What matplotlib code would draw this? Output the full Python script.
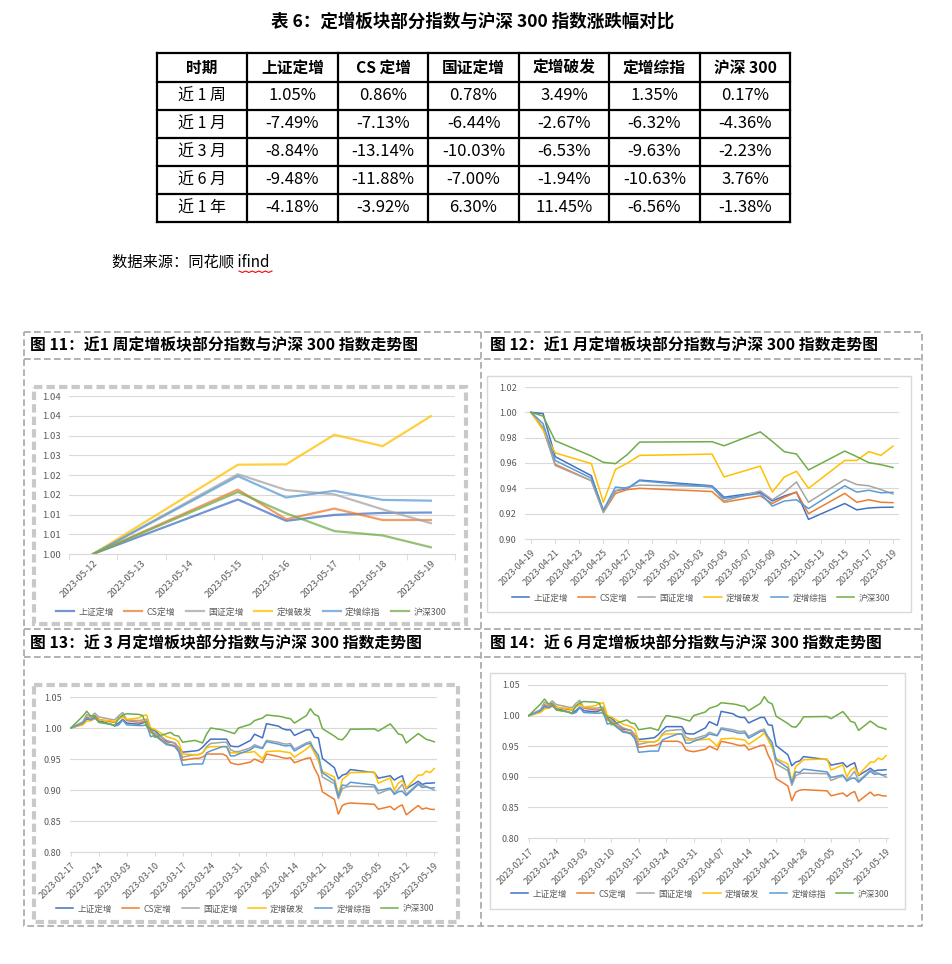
import math
import numpy as np
import pandas as pd
import matplotlib
matplotlib.use("Agg")
import matplotlib.pyplot as plt
from matplotlib.patches import Rectangle

plt.rcParams['font.family'] = ['Noto Sans CJK SC', 'DejaVu Sans']

# ---------------- data ----------------
names = ["上证定增", "CS定增", "国证定增", "定增破发", "定增综指", "沪深300"]
colors = ["#4472C4", "#ED7D31", "#A5A5A5", "#FFC000", "#5B9BD5", "#70AD47"]

table_cols = ["时期", "上证定增", "CS 定增", "国证定增", "定增破发", "定增综指", "沪深 300"]
table_rows = ["近 1 周", "近 1 月", "近 3 月", "近 6 月", "近 1 年"]
chg_week = [1.05, 0.86, 0.78, 3.49, 1.35, 0.17]
chg_1m = [-7.49, -7.13, -6.44, -2.67, -6.32, -4.36]
chg_3m = [-8.84, -13.14, -10.03, -6.53, -9.63, -2.23]
chg_6m = [-9.48, -11.88, -7.00, -1.94, -10.63, 3.76]
chg_1y = [-4.18, -3.92, 6.30, 11.45, -6.56, -1.38]

# week chart (category axis)
week_cats = ["2023-05-12", "2023-05-13", "2023-05-14", "2023-05-15",
             "2023-05-16", "2023-05-17", "2023-05-18", "2023-05-19"]
week_dates = ["2023-05-12", "2023-05-15", "2023-05-16", "2023-05-17", "2023-05-18", "2023-05-19"]
w_sz = [1.000, 1.0138, 1.0084, 1.0099, 1.0104, 1.0105]
w_cs = [1.000, 1.0163, 1.0088, 1.0115, 1.0086, 1.0086]
w_gz = [1.000, 1.0202, 1.0162, 1.0151, 1.0113, 1.0078]
w_pf = [1.000, 1.0226, 1.0227, 1.0302, 1.0273, 1.0349]
w_zz = [1.000, 1.0197, 1.0143, 1.0160, 1.0137, 1.0135]
w_hs = [1.000, 1.0157, 1.0103, 1.0058, 1.0047, 1.0017]

# month chart
m_dates = ["2023-04-19", "2023-04-20", "2023-04-21", "2023-04-24", "2023-04-25", "2023-04-26",
           "2023-04-27", "2023-04-28", "2023-05-04", "2023-05-05", "2023-05-08", "2023-05-09",
           "2023-05-10", "2023-05-11", "2023-05-12", "2023-05-15", "2023-05-16", "2023-05-17",
           "2023-05-18", "2023-05-19"]
m_sz = [1.000, 0.999, 0.965, 0.950, 0.922, 0.938, 0.940, 0.9465, 0.942, 0.933, 0.937, 0.930,
        0.934, 0.937, 0.9155, 0.928, 0.923, 0.9245, 0.925, 0.9251]
m_cs = [1.000, 0.987, 0.959, 0.946, 0.921, 0.936, 0.939, 0.940, 0.9375, 0.929, 0.934, 0.928,
        0.933, 0.937, 0.920, 0.936, 0.929, 0.931, 0.929, 0.9287]
m_gz = [1.000, 0.988, 0.958, 0.946, 0.921, 0.938, 0.941, 0.9425, 0.9415, 0.930, 0.938, 0.931,
        0.937, 0.945, 0.929, 0.947, 0.943, 0.942, 0.939, 0.9356]
m_pf = [1.000, 0.986, 0.968, 0.9595, 0.929, 0.955, 0.960, 0.966, 0.967, 0.949, 0.9575, 0.937,
        0.949, 0.9535, 0.940, 0.962, 0.962, 0.969, 0.966, 0.9733]
m_zz = [1.000, 0.991, 0.962, 0.948, 0.923, 0.941, 0.940, 0.946, 0.941, 0.932, 0.936, 0.926,
        0.930, 0.931, 0.924, 0.942, 0.937, 0.9385, 0.9365, 0.9368]
m_hs = [1.000, 0.997, 0.9776, 0.9655, 0.9605, 0.9595, 0.9668, 0.9765, 0.9768, 0.9736, 0.9846, 0.977,
        0.9689, 0.9671, 0.9545, 0.9694, 0.965, 0.9603, 0.9587, 0.9564]

# three-month chart (the six-month panel in the source shows the same series)
q_dates = ["2023-02-17", "2023-02-20", "2023-02-21", "2023-02-22", "2023-02-23", "2023-02-24",
           "2023-02-27", "2023-02-28", "2023-03-01", "2023-03-02", "2023-03-03", "2023-03-06",
           "2023-03-07", "2023-03-08", "2023-03-09", "2023-03-10", "2023-03-13", "2023-03-14",
           "2023-03-15", "2023-03-16", "2023-03-17", "2023-03-20", "2023-03-21", "2023-03-22",
           "2023-03-23", "2023-03-24", "2023-03-27", "2023-03-28", "2023-03-29", "2023-03-30",
           "2023-03-31", "2023-04-03", "2023-04-04", "2023-04-06", "2023-04-07", "2023-04-10",
           "2023-04-11", "2023-04-12", "2023-04-13", "2023-04-14", "2023-04-17", "2023-04-18",
           "2023-04-19", "2023-04-20", "2023-04-21", "2023-04-24", "2023-04-25", "2023-04-26",
           "2023-04-27", "2023-04-28", "2023-05-04", "2023-05-05", "2023-05-08", "2023-05-09",
           "2023-05-10", "2023-05-11", "2023-05-12", "2023-05-15", "2023-05-16", "2023-05-17",
           "2023-05-18", "2023-05-19"]
q_sz = [1.000, 1.006, 1.015, 1.012, 1.017, 1.012, 1.006, 1.004, 1.008, 1.014, 1.008, 1.006,
        1.008, 1.011, 0.998, 0.996, 0.978, 0.977, 0.976, 0.968, 0.961, 0.963, 0.964, 0.969,
        0.976, 0.982, 0.982, 0.982, 0.971, 0.970, 0.970, 0.980, 0.990, 0.984, 1.007, 1.003,
        0.999, 0.997, 0.997, 0.988, 0.997, 0.997,
        0.985, 0.984, 0.951, 0.936, 0.918, 0.924, 0.926, 0.933, 0.928, 0.919, 0.923, 0.916,
        0.920, 0.923, 0.902, 0.914, 0.909, 0.911, 0.911, 0.9116]
q_cs = [1.000, 1.008, 1.018, 1.015, 1.020, 1.014, 1.010, 1.009, 1.015, 1.020, 1.012, 1.009,
        1.010, 1.009, 0.993, 0.990, 0.975, 0.973, 0.972, 0.965, 0.948, 0.951, 0.951, 0.953,
        0.958, 0.958, 0.958, 0.955, 0.944, 0.942, 0.941, 0.945, 0.950, 0.944, 0.958, 0.954,
        0.952, 0.951, 0.952, 0.944, 0.951, 0.952,
        0.935, 0.923, 0.897, 0.885, 0.861, 0.875, 0.878, 0.879, 0.877, 0.869, 0.8735, 0.868,
        0.873, 0.876, 0.860, 0.875, 0.869, 0.871, 0.869, 0.8686]
q_gz = [1.000, 1.010, 1.022, 1.018, 1.024, 1.018, 1.014, 1.013, 1.020, 1.025, 1.013, 1.012,
        1.013, 1.014, 0.996, 0.992, 0.980, 0.978, 0.976, 0.968, 0.953, 0.957, 0.957, 0.960,
        0.970, 0.975, 0.977, 0.977, 0.965, 0.962, 0.962, 0.968, 0.973, 0.968, 0.980, 0.977,
        0.975, 0.974, 0.975, 0.966, 0.976, 0.978,
        0.962, 0.950, 0.921, 0.910, 0.886, 0.902, 0.905, 0.906, 0.905, 0.894, 0.902, 0.895,
        0.901, 0.909, 0.893, 0.911, 0.907, 0.906, 0.903, 0.8997]
q_pf = [1.000, 1.005, 1.011, 1.012, 1.015, 1.013, 1.012, 1.010, 1.014, 1.018, 1.014, 1.016,
        1.020, 1.021, 1.000, 0.998, 0.986, 0.984, 0.982, 0.978, 0.958, 0.957, 0.957, 0.960,
        0.968, 0.970, 0.970, 0.970, 0.960, 0.960, 0.960, 0.961, 0.962, 0.950, 0.962, 0.963,
        0.962, 0.961, 0.960, 0.953, 0.966, 0.972,
        0.960, 0.947, 0.930, 0.921, 0.892, 0.917, 0.922, 0.928, 0.929, 0.911, 0.9195, 0.900,
        0.911, 0.9155, 0.903, 0.924, 0.924, 0.9305, 0.928, 0.9347]
q_zz = [1.000, 1.008, 1.016, 1.013, 1.016, 1.010, 1.006, 1.003, 1.005, 1.013, 1.005, 1.004,
        1.004, 1.005, 0.986, 0.988, 0.973, 0.972, 0.970, 0.962, 0.940, 0.942, 0.942, 0.942,
        0.960, 0.963, 0.970, 0.970, 0.955, 0.955, 0.958, 0.965, 0.970, 0.967, 0.978, 0.974,
        0.972, 0.971, 0.972, 0.963, 0.974, 0.975,
        0.965, 0.956, 0.928, 0.9145, 0.890, 0.908, 0.907, 0.9125, 0.908, 0.899, 0.903, 0.893,
        0.897, 0.898, 0.891, 0.909, 0.904, 0.905, 0.903, 0.9037]
q_hs = [1.000, 1.019, 1.027, 1.019, 1.020, 1.009, 1.006, 1.004, 1.016, 1.021, 1.023, 1.022,
        1.020, 1.002, 0.999, 0.985, 0.991, 0.993, 0.988, 0.987, 0.977, 0.980, 0.978, 0.976,
        0.990, 1.000, 0.997, 0.995, 0.993, 0.991, 1.000, 1.006, 1.012, 1.016, 1.021, 1.019,
        1.018, 1.016, 1.015, 1.008, 1.020, 1.031,
        1.022, 1.019, 0.999, 0.987, 0.982, 0.981, 0.988, 0.998, 0.9985, 0.995, 1.0066, 0.999,
        0.9905, 0.9887, 0.9758, 0.991, 0.9865, 0.9817, 0.980, 0.9777]

# ---------------- layout helpers ----------------
W, H = 952, 964
fig = plt.figure(figsize=(W / 100, H / 100), dpi=100)
bg = fig.add_axes([0, 0, 1, 1])
bg.set_xlim(0, W)
bg.set_ylim(H, 0)
bg.axis("off")


def box(x0, y0, x1, y1):
    return [x0 / W, 1 - y1 / H, (x1 - x0) / W, (y1 - y0) / H]


def excel_round(v):
    return "%.2f" % (math.floor(v * 100 + 0.5 + 1e-9) / 100)


TXT = "#595959"

# ---------------- table ----------------
bg.text(473, 22, "表 6：定增板块部分指数与沪深 300 指数涨跌幅对比", ha="center", va="center",
        fontsize=12.6, fontweight="bold")
col_x = [157, 247, 338, 428, 519, 609, 700, 790]
row_y = [53, 82, 110, 138, 166, 194, 222]
for x in col_x:
    bg.plot([x, x], [row_y[0], row_y[-1]], color="black", lw=1.6)
for y in row_y:
    bg.plot([col_x[0], col_x[-1]], [y, y], color="black", lw=1.6)
for j, c in enumerate(table_cols):
    bg.text((col_x[j] + col_x[j + 1]) / 2, (row_y[0] + row_y[1]) / 2, c, ha="center",
            va="center", fontsize=11.3, fontweight="bold")
all_chg = [chg_week, chg_1m, chg_3m, chg_6m, chg_1y]
for i, r in enumerate(table_rows):
    yc = (row_y[i + 1] + row_y[i + 2]) / 2
    bg.text((col_x[0] + col_x[1]) / 2, yc, r, ha="center", va="center", fontsize=11.5)
    for j, v in enumerate(all_chg[i]):
        bg.text((col_x[j + 1] + col_x[j + 2]) / 2, yc, "%.2f%%" % v, ha="center",
                va="center", fontsize=12)

bg.text(112, 262, "数据来源：同花顺 ifind", ha="left", va="center", fontsize=11)
zx = np.linspace(239, 272, 11)
bg.plot(zx, 271 + 1.5 * (np.arange(11) % 2), color="red", lw=0.8)

# ---------------- dashed frame grid ----------------
dash = dict(color="#a6a6a6", lw=1.2, ls=(0, (4, 2)))
bg.plot([24, 922, 922, 24, 24], [332, 332, 926, 926, 332], **dash)
for y in [359, 629, 657]:
    bg.plot([24, 922], [y, y], **dash)
bg.plot([481, 481], [332, 926], **dash)

titles = [(30, 345, "图 11：近1 周定增板块部分指数与沪深 300 指数走势图"),
          (490, 345, "图 12：近1 月定增板块部分指数与沪深 300 指数走势图"),
          (30, 643, "图 13：近 3 月定增板块部分指数与沪深 300 指数走势图"),
          (490, 643, "图 14：近 6 月定增板块部分指数与沪深 300 指数走势图")]
for x, y, t in titles:
    bg.text(x, y, t, ha="left", va="center", fontsize=11.4, fontweight="bold")

# chart frames
bg.add_patch(Rectangle((34, 387), 432, 237, fill=False, ec="#c9c9c9", lw=3, ls=(0, (2, 1))))
bg.add_patch(Rectangle((34, 685), 424, 237, fill=False, ec="#c9c9c9", lw=3, ls=(0, (2, 1))))
bg.add_patch(Rectangle((487, 376), 424, 236, fill=False, ec="#d9d9d9", lw=1))
bg.add_patch(Rectangle((490, 673), 415, 236, fill=False, ec="#d9d9d9", lw=1))


def style_axis(ax, ylim, step, fs):
    ax.set_ylim(*ylim)
    yt = np.arange(ylim[0], ylim[1] + step / 2, step)
    ax.set_yticks(yt)
    ax.set_yticklabels([excel_round(v) for v in yt])
    ax.grid(axis="y", color="#d9d9d9", lw=0.8)
    ax.set_axisbelow(True)
    for s in ["top", "right", "left"]:
        ax.spines[s].set_visible(False)
    ax.spines["bottom"].set_color("#d9d9d9")
    ax.tick_params(axis="y", length=0, labelsize=fs, labelcolor=TXT, pad=6)
    ax.tick_params(axis="x", labelsize=fs, labelcolor=TXT, color="#d9d9d9", length=3)
    ax.patch.set_alpha(0)


def add_legend(ax, cx, cy, fs):
    ax.legend(loc="center", bbox_to_anchor=(cx / W, 1 - cy / H), bbox_transform=fig.transFigure,
              ncol=6, frameon=False, fontsize=fs, handlelength=2.0, columnspacing=1.2,
              handletextpad=0.5, labelcolor=TXT, borderpad=0.2)


# ---------------- chart 1: week ----------------
ax1 = fig.add_axes(box(69, 396, 455, 554))
xw = [week_cats.index(d) for d in week_dates]
for n, vals, c in zip(names, [w_sz, w_cs, w_gz, w_pf, w_zz, w_hs], colors):
    ax1.plot(xw, vals, color=c, lw=1.6, alpha=0.75, label=n)
ax1.set_xlim(-0.5, len(week_cats) - 0.5)
style_axis(ax1, (1.0, 1.04), 0.005, 6.8)
ax1.set_xticks(range(len(week_cats)))
ax1.set_xticklabels(week_cats, rotation=45, ha="right", rotation_mode="anchor")
ax1.set_xticks(np.arange(-0.5, len(week_cats)), minor=True)
ax1.tick_params(axis="x", which="major", length=0)
ax1.tick_params(axis="x", which="minor", length=4, color="#d9d9d9")
add_legend(ax1, 251, 612, 6.4)


# ---------------- date charts ----------------
def date_chart(rect, dates, series, ylim, step, tick_days, pad, legend_pos):
    ax = fig.add_axes(box(*rect))
    d = pd.to_datetime(dates)
    for n, vals, c in zip(names, series, colors):
        ax.plot(d, vals, color=c, lw=1.1, label=n)
    ax.set_xlim(d[0] - pd.Timedelta(days=pad[0]), d[-1] + pd.Timedelta(days=pad[1]))
    style_axis(ax, ylim, step, 6.5)
    ticks = pd.date_range(d[0], d[-1], freq="%dD" % tick_days)
    ax.set_xticks(ticks)
    ax.set_xticklabels([t.strftime("%Y-%m-%d") for t in ticks], rotation=45, ha="right",
                       rotation_mode="anchor")
    add_legend(ax, legend_pos[0], legend_pos[1], 6.2)
    return ax


date_chart((525, 387, 899, 539), m_dates, [m_sz, m_cs, m_gz, m_pf, m_zz, m_hs],
           (0.90, 1.02), 0.02, 2, (0.5, 0.5), (701, 598))
q_series = [q_sz, q_cs, q_gz, q_pf, q_zz, q_hs]
date_chart((70, 697, 437, 852), q_dates, q_series, (0.80, 1.05), 0.05, 7, (0.2, 0.7), (245, 909))
date_chart((528, 685, 888, 838), q_dates, q_series, (0.80, 1.05), 0.05, 7, (0.2, 0.5), (700, 894))

fig.savefig("out.png", dpi=100, facecolor="white")
